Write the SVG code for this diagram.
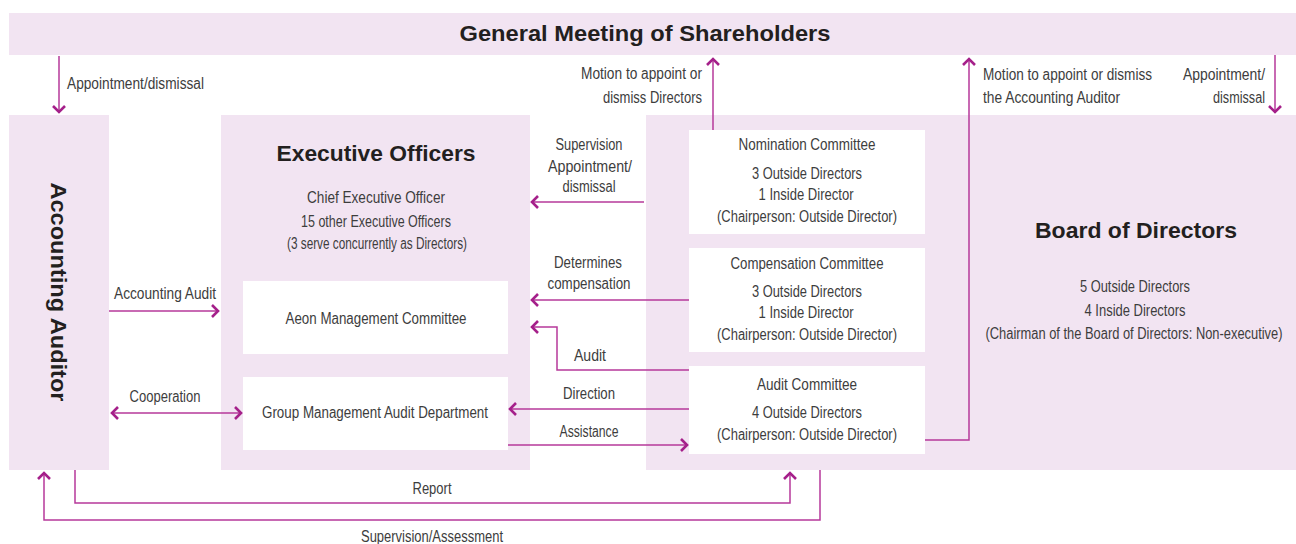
<svg xmlns="http://www.w3.org/2000/svg" width="1296" height="544" viewBox="0 0 1296 544">
<style>
.bg{fill:#f2e4f2}
.wb{fill:#ffffff}
.t{font-family:"Liberation Sans Narrow","Liberation Sans",Arial,sans-serif;font-size:16px;fill:#3d3d3d}
.h{font-family:"Liberation Sans","Open Sans",Arial,sans-serif;font-size:22px;font-weight:bold;fill:#231f20}
.c{text-anchor:middle}
.e{text-anchor:end}
.ln{fill:none;stroke:#b6399a;stroke-width:1.5}
</style>
<defs>
<marker id="ah" viewBox="-10 -8 12 16" markerWidth="12" markerHeight="16" refX="0" refY="0" orient="auto-start-reverse" markerUnits="userSpaceOnUse">
<path d="M-7,-6 L-1,0 L-7,6" fill="none" stroke="#a5208a" stroke-width="2.6"/>
</marker>
</defs>
<rect width="1296" height="544" fill="#ffffff"/>

<g id="shareholders">
<rect class="bg" x="9" y="13" width="1287" height="42"/>
<text class="h c" x="645" y="41" textLength="371" lengthAdjust="spacingAndGlyphs">General Meeting of Shareholders</text>
</g>

<g id="accounting-auditor">
<rect class="bg" x="9" y="115" width="100" height="355"/>
<text class="h c" transform="translate(59,292) rotate(90)" x="0" y="8" textLength="219" lengthAdjust="spacingAndGlyphs">Accounting Auditor</text>
</g>

<g id="executive-officers">
<rect class="bg" x="221" y="115" width="309" height="355"/>
<text class="h c" x="376" y="161" textLength="199" lengthAdjust="spacingAndGlyphs">Executive Officers</text>
<text class="t c" x="376" y="203" textLength="138" lengthAdjust="spacingAndGlyphs">Chief Executive Officer</text>
<text class="t c" x="376" y="227" textLength="150" lengthAdjust="spacingAndGlyphs">15 other Executive Officers</text>
<text class="t c" x="377" y="249" textLength="180" lengthAdjust="spacingAndGlyphs">(3 serve concurrently as Directors)</text>
</g>

<g id="aeon-management-committee">
<rect class="wb" x="243" y="281" width="265" height="73"/>
<text class="t c" x="376" y="324" textLength="181" lengthAdjust="spacingAndGlyphs">Aeon Management Committee</text>
</g>

<g id="group-management-audit">
<rect class="wb" x="243" y="377" width="265" height="73"/>
<text class="t c" x="375" y="418" textLength="226" lengthAdjust="spacingAndGlyphs">Group Management Audit Department</text>
</g>

<g id="board-of-directors">
<rect class="bg" x="646" y="115" width="650" height="355"/>
<text class="h c" x="1136" y="238" textLength="202" lengthAdjust="spacingAndGlyphs">Board of Directors</text>
<text class="t c" x="1135" y="292" textLength="110" lengthAdjust="spacingAndGlyphs">5 Outside Directors</text>
<text class="t c" x="1135" y="316" textLength="101" lengthAdjust="spacingAndGlyphs">4 Inside Directors</text>
<text class="t c" x="1134" y="339" textLength="297" lengthAdjust="spacingAndGlyphs">(Chairman of the Board of Directors: Non-executive)</text>
</g>

<g id="nomination-committee">
<rect class="wb" x="689" y="130" width="236" height="104"/>
<text class="t c" x="807" y="150" textLength="137" lengthAdjust="spacingAndGlyphs">Nomination Committee</text>
<text class="t c" x="807" y="179" textLength="110" lengthAdjust="spacingAndGlyphs">3 Outside Directors</text>
<text class="t c" x="806" y="200" textLength="95" lengthAdjust="spacingAndGlyphs">1 Inside Director</text>
<text class="t c" x="807" y="222" textLength="180" lengthAdjust="spacingAndGlyphs">(Chairperson: Outside Director)</text>
</g>

<g id="compensation-committee">
<rect class="wb" x="689" y="248" width="236" height="104"/>
<text class="t c" x="807" y="269" textLength="153" lengthAdjust="spacingAndGlyphs">Compensation Committee</text>
<text class="t c" x="807" y="297" textLength="110" lengthAdjust="spacingAndGlyphs">3 Outside Directors</text>
<text class="t c" x="806" y="318" textLength="95" lengthAdjust="spacingAndGlyphs">1 Inside Director</text>
<text class="t c" x="807" y="340" textLength="180" lengthAdjust="spacingAndGlyphs">(Chairperson: Outside Director)</text>
</g>

<g id="audit-committee">
<rect class="wb" x="689" y="366" width="236" height="88"/>
<text class="t c" x="807" y="390" textLength="100" lengthAdjust="spacingAndGlyphs">Audit Committee</text>
<text class="t c" x="807" y="418" textLength="110" lengthAdjust="spacingAndGlyphs">4 Outside Directors</text>
<text class="t c" x="807" y="440" textLength="180" lengthAdjust="spacingAndGlyphs">(Chairperson: Outside Director)</text>
</g>

<g id="connectors">
<path class="ln" d="M59,56 V113" marker-end="url(#ah)"/>
<path class="ln" d="M713,130 V58" marker-end="url(#ah)"/>
<path class="ln" d="M644,202 H531" marker-end="url(#ah)"/>
<path class="ln" d="M925,440 H969 V58" marker-end="url(#ah)"/>
<path class="ln" d="M1275,55 V113" marker-end="url(#ah)"/>
<path class="ln" d="M109,311 H219" marker-end="url(#ah)"/>
<path class="ln" d="M111,413 H242" marker-start="url(#ah)" marker-end="url(#ah)"/>
<path class="ln" d="M689,300 H531" marker-end="url(#ah)"/>
<path class="ln" d="M689,370 H557 V327 H531" marker-end="url(#ah)"/>
<path class="ln" d="M689,409 H509" marker-end="url(#ah)"/>
<path class="ln" d="M508,445 H688" marker-end="url(#ah)"/>
<path class="ln" d="M75,470 V503 H790 V472" marker-end="url(#ah)"/>
<path class="ln" d="M820,470 V520 H44 V472" marker-end="url(#ah)"/>
</g>

<g id="connector-labels">
<text class="t" x="67" y="89" textLength="137" lengthAdjust="spacingAndGlyphs">Appointment/dismissal</text>
<text class="t e" x="702" y="79" textLength="121" lengthAdjust="spacingAndGlyphs">Motion to appoint or</text>
<text class="t e" x="702" y="103" textLength="99" lengthAdjust="spacingAndGlyphs">dismiss Directors</text>
<text class="t c" x="589" y="150" textLength="67" lengthAdjust="spacingAndGlyphs">Supervision</text>
<text class="t c" x="590" y="172" textLength="84" lengthAdjust="spacingAndGlyphs">Appointment/</text>
<text class="t c" x="589" y="192" textLength="53" lengthAdjust="spacingAndGlyphs">dismissal</text>
<text class="t" x="983" y="80" textLength="169" lengthAdjust="spacingAndGlyphs">Motion to appoint or dismiss</text>
<text class="t" x="983" y="103" textLength="137" lengthAdjust="spacingAndGlyphs">the Accounting Auditor</text>
<text class="t e" x="1265" y="80" textLength="82" lengthAdjust="spacingAndGlyphs">Appointment/</text>
<text class="t e" x="1265" y="103" textLength="52" lengthAdjust="spacingAndGlyphs">dismissal</text>
<text class="t c" x="165" y="299" textLength="102" lengthAdjust="spacingAndGlyphs">Accounting Audit</text>
<text class="t c" x="165" y="402" textLength="71" lengthAdjust="spacingAndGlyphs">Cooperation</text>
<text class="t c" x="588" y="268" textLength="68" lengthAdjust="spacingAndGlyphs">Determines</text>
<text class="t c" x="589" y="289" textLength="83" lengthAdjust="spacingAndGlyphs">compensation</text>
<text class="t c" x="590" y="361" textLength="32" lengthAdjust="spacingAndGlyphs">Audit</text>
<text class="t c" x="589" y="399" textLength="52" lengthAdjust="spacingAndGlyphs">Direction</text>
<text class="t c" x="589" y="437" textLength="59" lengthAdjust="spacingAndGlyphs">Assistance</text>
<text class="t c" x="432" y="494" textLength="39" lengthAdjust="spacingAndGlyphs">Report</text>
<text class="t c" x="432" y="542" textLength="142" lengthAdjust="spacingAndGlyphs">Supervision/Assessment</text>
</g>
</svg>
